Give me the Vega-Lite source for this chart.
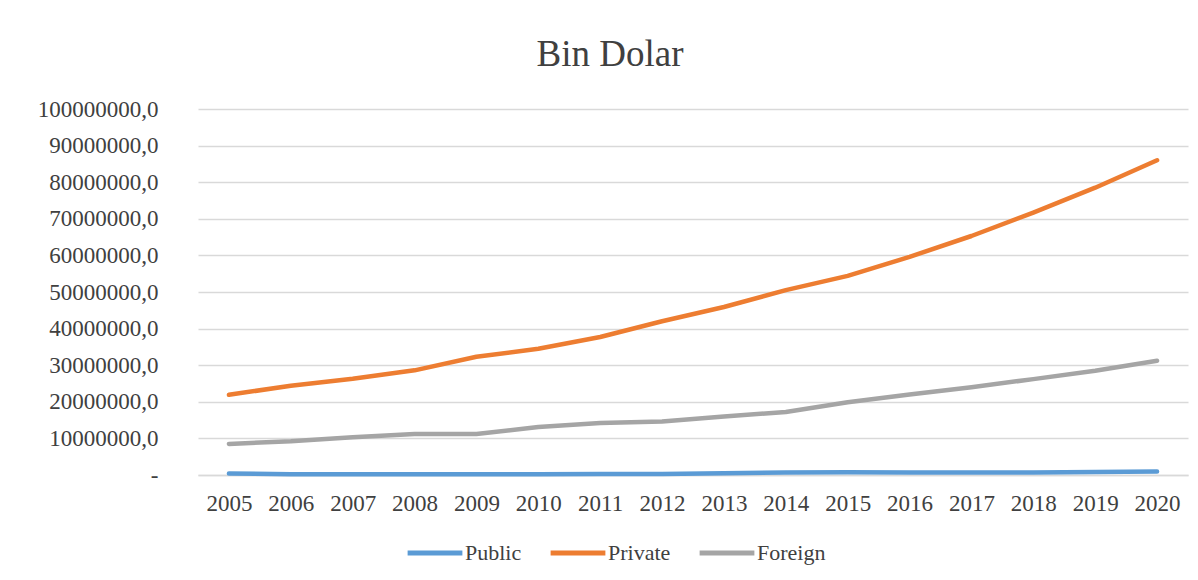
{
  "$schema": "https://vega.github.io/schema/vega-lite/v6.json",
  "width": 990,
  "height": 366,
  "autosize": "none",
  "padding": {"left": 198, "top": 109, "right": 10, "bottom": 105},
  "background": "white",
  "title": {
    "text": "Bin Dolar",
    "font": "Liberation Serif",
    "fontSize": 37,
    "fontWeight": "normal",
    "color": "#404040",
    "anchor": "middle",
    "dx": -83,
    "offset": 24
  },
  "data": {
    "values": [
      {"year": "2005", "series": "Public", "value": 400000},
      {"year": "2006", "series": "Public", "value": 200000},
      {"year": "2007", "series": "Public", "value": 200000},
      {"year": "2008", "series": "Public", "value": 200000},
      {"year": "2009", "series": "Public", "value": 200000},
      {"year": "2010", "series": "Public", "value": 200000},
      {"year": "2011", "series": "Public", "value": 250000},
      {"year": "2012", "series": "Public", "value": 300000},
      {"year": "2013", "series": "Public", "value": 500000},
      {"year": "2014", "series": "Public", "value": 650000},
      {"year": "2015", "series": "Public", "value": 750000},
      {"year": "2016", "series": "Public", "value": 650000},
      {"year": "2017", "series": "Public", "value": 650000},
      {"year": "2018", "series": "Public", "value": 700000},
      {"year": "2019", "series": "Public", "value": 850000},
      {"year": "2020", "series": "Public", "value": 950000},
      {"year": "2005", "series": "Private", "value": 21900000},
      {"year": "2006", "series": "Private", "value": 24400000},
      {"year": "2007", "series": "Private", "value": 26300000},
      {"year": "2008", "series": "Private", "value": 28600000},
      {"year": "2009", "series": "Private", "value": 32300000},
      {"year": "2010", "series": "Private", "value": 34500000},
      {"year": "2011", "series": "Private", "value": 37700000},
      {"year": "2012", "series": "Private", "value": 42000000},
      {"year": "2013", "series": "Private", "value": 45900000},
      {"year": "2014", "series": "Private", "value": 50500000},
      {"year": "2015", "series": "Private", "value": 54400000},
      {"year": "2016", "series": "Private", "value": 59600000},
      {"year": "2017", "series": "Private", "value": 65300000},
      {"year": "2018", "series": "Private", "value": 71700000},
      {"year": "2019", "series": "Private", "value": 78500000},
      {"year": "2020", "series": "Private", "value": 86000000},
      {"year": "2005", "series": "Foreign", "value": 8500000},
      {"year": "2006", "series": "Foreign", "value": 9200000},
      {"year": "2007", "series": "Foreign", "value": 10300000},
      {"year": "2008", "series": "Foreign", "value": 11200000},
      {"year": "2009", "series": "Foreign", "value": 11200000},
      {"year": "2010", "series": "Foreign", "value": 13100000},
      {"year": "2011", "series": "Foreign", "value": 14200000},
      {"year": "2012", "series": "Foreign", "value": 14600000},
      {"year": "2013", "series": "Foreign", "value": 16000000},
      {"year": "2014", "series": "Foreign", "value": 17200000},
      {"year": "2015", "series": "Foreign", "value": 19900000},
      {"year": "2016", "series": "Foreign", "value": 22000000},
      {"year": "2017", "series": "Foreign", "value": 24000000},
      {"year": "2018", "series": "Foreign", "value": 26200000},
      {"year": "2019", "series": "Foreign", "value": 28500000},
      {"year": "2020", "series": "Foreign", "value": 31200000}
    ]
  },
  "mark": {"type": "line", "strokeWidth": 4.5, "strokeCap": "round", "strokeJoin": "round"},
  "encoding": {
    "x": {
      "field": "year",
      "type": "ordinal",
      "scale": {"type": "point", "padding": 0.5},
      "axis": {
        "title": null,
        "labelAngle": 0,
        "labelFont": "Liberation Serif",
        "labelFontSize": 23,
        "labelColor": "#404040",
        "labelPadding": 17,
        "ticks": false,
        "domain": true,
        "domainColor": "#d9d9d9",
        "domainWidth": 1.5,
        "grid": false
      }
    },
    "y": {
      "field": "value",
      "type": "quantitative",
      "scale": {"domain": [0, 100000000], "nice": false},
      "axis": {
        "title": null,
        "values": [0, 10000000, 20000000, 30000000, 40000000, 50000000, 60000000, 70000000, 80000000, 90000000, 100000000],
        "labelExpr": "datum.value == 0 ? '-\u00a0\u00a0\u00a0\u00a0\u00a0\u00a0\u00a0\u00a0\u00a0\u00a0\u00a0\u00a0' : format(datum.value, '.0f') + ',0'",
        "labelFont": "Liberation Serif",
        "labelFontSize": 23,
        "labelColor": "#404040",
        "labelPadding": 40,
        "ticks": false,
        "domain": false,
        "grid": true,
        "gridColor": "#d9d9d9",
        "gridWidth": 1.5
      }
    },
    "color": {
      "field": "series",
      "type": "nominal",
      "scale": {"domain": ["Public", "Private", "Foreign"], "range": ["#5b9bd5", "#ed7d31", "#a5a5a5"]},
      "legend": {
        "title": null,
        "orient": "none",
        "direction": "horizontal",
        "legendX": 207,
        "legendY": 414,
        "symbolType": "stroke",
        "symbolSize": 3000,
        "symbolStrokeWidth": 5,
        "labelFont": "Liberation Serif",
        "labelFontSize": 22,
        "labelColor": "#404040",
        "labelOffset": 0,
        "columnPadding": 18
      }
    }
  },
  "config": {
    "view": {"stroke": null}
  }
}
